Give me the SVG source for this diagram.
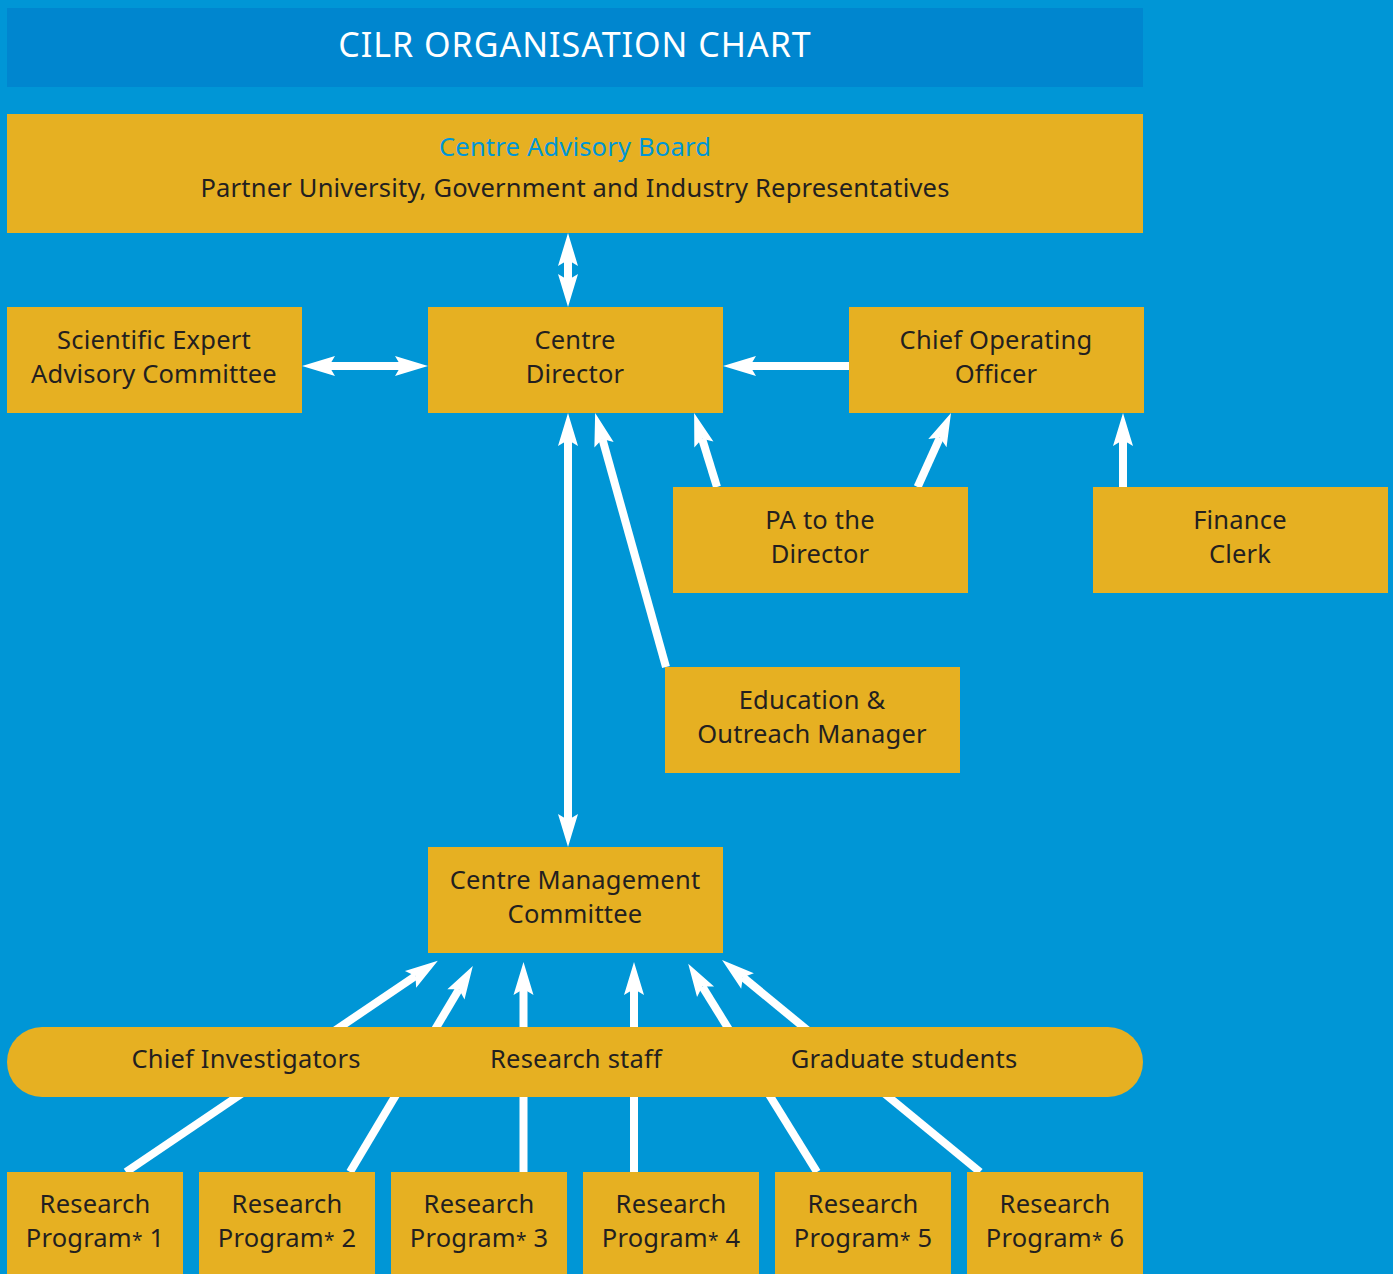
<svg xmlns="http://www.w3.org/2000/svg" width="1393" height="1274" viewBox="0 0 1393 1274">
  <style>
    .box { fill: #e6b022; }
    .lbl { font-family: "Noto Sans", "Liberation Sans", sans-serif; font-size: 25.5px; letter-spacing: 0.2px; fill: #231f20; text-anchor: middle; }
    .ast { font-size: 19px; }
    .conn { stroke: #ffffff; stroke-width: 8; fill: none; }
    .arr { marker-end: url(#head); }
    .dbl { marker-start: url(#head); marker-end: url(#head); }
  </style>
  <defs>
    <marker id="head" markerUnits="userSpaceOnUse" markerWidth="40" markerHeight="24" viewBox="-6 -12 40 24" refX="0" refY="0" orient="auto-start-reverse" overflow="visible">
      <path d="M -6 -10 L 27 0 L -6 10 L 0 0 Z" fill="#ffffff"/>
    </marker>
  </defs>

  <!-- background -->
  <rect x="0" y="0" width="1393" height="1274" fill="#0096d6"/>

  <!-- title bar -->
  <g id="title">
    <rect x="7" y="8" width="1136" height="79" fill="#0086cf"/>
    <text x="575" y="57" font-family="Noto Sans, Liberation Sans, sans-serif" font-size="34" letter-spacing="1" fill="#ffffff" text-anchor="middle">CILR ORGANISATION CHART</text>
  </g>

  <!-- connectors (drawn beneath the nodes) -->
  <g id="connectors">
    <line class="conn dbl" x1="568" y1="260" x2="568" y2="280"/>
    <line class="conn dbl" x1="329" y1="366" x2="401" y2="366"/>
    <line class="conn arr" x1="849" y1="366" x2="750" y2="366"/>
    <line class="conn dbl" x1="568" y1="440" x2="568" y2="820"/>
    <line class="conn arr" x1="666" y1="667" x2="602.4" y2="439"/>
    <line class="conn arr" x1="717" y1="487" x2="702.1" y2="438.8"/>
    <line class="conn arr" x1="917.6" y1="487" x2="939.9" y2="437.6"/>
    <line class="conn arr" x1="1123" y1="487" x2="1123" y2="440"/>
    <!-- research programmes up to the management committee -->
    <line class="conn arr" x1="126" y1="1172" x2="415.5" y2="976"/>
    <line class="conn arr" x1="350" y1="1172" x2="459" y2="989.3"/>
    <line class="conn arr" x1="523.5" y1="1172" x2="523.5" y2="989"/>
    <line class="conn arr" x1="634" y1="1172" x2="634" y2="989"/>
    <line class="conn arr" x1="817" y1="1172" x2="702.4" y2="986.6"/>
    <line class="conn arr" x1="980" y1="1172" x2="742.9" y2="977.2"/>
  </g>

  <g id="advisory-board">
    <rect class="box" x="7" y="114" width="1136" height="119"/>
    <text class="lbl" x="575" y="156" style="fill:#0096d6">Centre Advisory Board</text>
    <text class="lbl" x="575" y="197">Partner University, Government and Industry Representatives</text>
  </g>

  <g id="scientific-committee">
    <rect class="box" x="7" y="307" width="295" height="106"/>
    <text class="lbl" x="154" y="349">Scientific Expert</text>
    <text class="lbl" x="154" y="383">Advisory Committee</text>
  </g>

  <g id="centre-director">
    <rect class="box" x="428" y="307" width="295" height="106"/>
    <text class="lbl" x="575" y="349">Centre</text>
    <text class="lbl" x="575" y="383">Director</text>
  </g>

  <g id="chief-operating-officer">
    <rect class="box" x="849" y="307" width="295" height="106"/>
    <text class="lbl" x="996" y="349">Chief Operating</text>
    <text class="lbl" x="996" y="383">Officer</text>
  </g>

  <g id="pa-director">
    <rect class="box" x="673" y="487" width="295" height="106"/>
    <text class="lbl" x="820" y="529">PA to the</text>
    <text class="lbl" x="820" y="563">Director</text>
  </g>

  <g id="finance-clerk">
    <rect class="box" x="1093" y="487" width="295" height="106"/>
    <text class="lbl" x="1240" y="529">Finance</text>
    <text class="lbl" x="1240" y="563">Clerk</text>
  </g>

  <g id="education-outreach">
    <rect class="box" x="665" y="667" width="295" height="106"/>
    <text class="lbl" x="812" y="709">Education &amp;</text>
    <text class="lbl" x="812" y="743">Outreach Manager</text>
  </g>

  <g id="management-committee">
    <rect class="box" x="428" y="847" width="295" height="106"/>
    <text class="lbl" x="575" y="889">Centre Management</text>
    <text class="lbl" x="575" y="923">Committee</text>
  </g>

  <g id="research-personnel">
    <rect class="box" x="7" y="1027" width="1136" height="70" rx="35" ry="35"/>
    <text class="lbl" x="246" y="1068">Chief Investigators</text>
    <text class="lbl" x="576" y="1068">Research staff</text>
    <text class="lbl" x="904" y="1068">Graduate students</text>
  </g>

  <g id="program-1">
    <rect class="box" x="7" y="1172" width="176" height="110"/>
    <text class="lbl" x="95" y="1213">Research</text>
    <text class="lbl" x="95" y="1247">Program<tspan class="ast">*</tspan> 1</text>
  </g>
  <g id="program-2">
    <rect class="box" x="199" y="1172" width="176" height="110"/>
    <text class="lbl" x="287" y="1213">Research</text>
    <text class="lbl" x="287" y="1247">Program<tspan class="ast">*</tspan> 2</text>
  </g>
  <g id="program-3">
    <rect class="box" x="391" y="1172" width="176" height="110"/>
    <text class="lbl" x="479" y="1213">Research</text>
    <text class="lbl" x="479" y="1247">Program<tspan class="ast">*</tspan> 3</text>
  </g>
  <g id="program-4">
    <rect class="box" x="583" y="1172" width="176" height="110"/>
    <text class="lbl" x="671" y="1213">Research</text>
    <text class="lbl" x="671" y="1247">Program<tspan class="ast">*</tspan> 4</text>
  </g>
  <g id="program-5">
    <rect class="box" x="775" y="1172" width="176" height="110"/>
    <text class="lbl" x="863" y="1213">Research</text>
    <text class="lbl" x="863" y="1247">Program<tspan class="ast">*</tspan> 5</text>
  </g>
  <g id="program-6">
    <rect class="box" x="967" y="1172" width="176" height="110"/>
    <text class="lbl" x="1055" y="1213">Research</text>
    <text class="lbl" x="1055" y="1247">Program<tspan class="ast">*</tspan> 6</text>
  </g>
</svg>
